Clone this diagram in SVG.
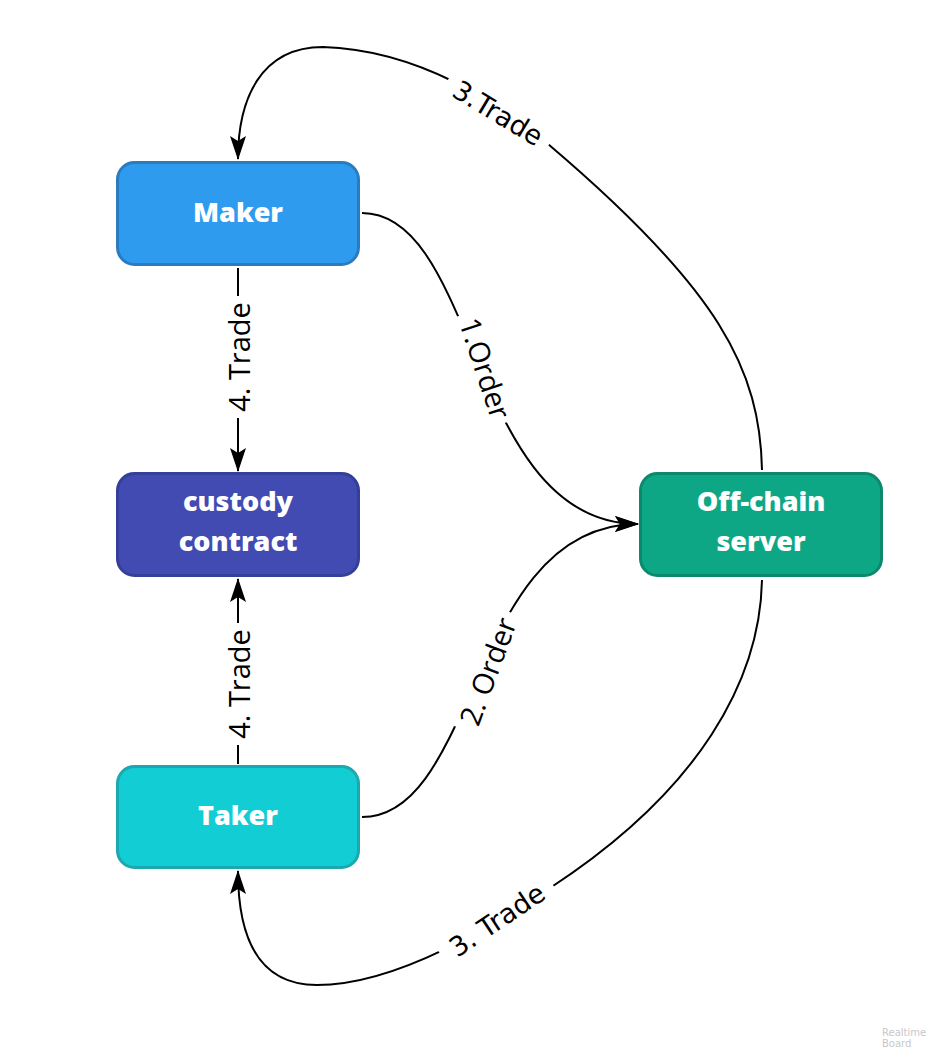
<svg xmlns="http://www.w3.org/2000/svg" width="941" height="1061" viewBox="0 0 941 1061">
<style>
.node rect{stroke-width:3}
.nt{font-family:"Open Sans","DejaVu Sans",sans-serif;font-weight:800;font-size:27px;fill:#ffffff;text-anchor:middle}
.edge{fill:none;stroke:#000;stroke-width:2}
.lbl{font-family:"Open Sans","DejaVu Sans",sans-serif;font-size:29px;fill:#000;text-anchor:middle;dominant-baseline:central}
.lbl3{font-family:"DejaVu Sans",sans-serif;font-size:27px;fill:#000;text-anchor:middle;dominant-baseline:central}
.bg{fill:#ffffff}
.wm{font-family:"DejaVu Sans",sans-serif;font-size:10px;fill:#c8c8c8}
</style>
<defs>
<marker id="arr" markerUnits="userSpaceOnUse" markerWidth="24" markerHeight="16" viewBox="0 0 24 16" refX="23" refY="8" orient="auto">
<path d="M0,0 L24,8 L0,16 L5,8 Z" fill="#000"/>
</marker>
</defs>
<rect width="941" height="1061" fill="#ffffff"/>
<g id="connectors">
<path class="edge" d="M362,213 C478,213 470,524 638,524" marker-end="url(#arr)"/>
<path class="edge" d="M362,817 C478,817 470,524 638,524" marker-end="url(#arr)"/>
<path class="edge" d="M762,470 C760,370 720,290 548,144 C502,105 420,50 323,47 C260,47 238,100 238,159" marker-end="url(#arr)"/>
<path class="edge" d="M762,580 C760,680 700,790 550,888 C497,922 400,985 317,985 C260,985 238,940 238,871" marker-end="url(#arr)"/>
<path class="edge" d="M238,268 L238,471" marker-end="url(#arr)"/>
<path class="edge" d="M238,764 L238,579" marker-end="url(#arr)"/>
<g transform="translate(486,368) rotate(71.7)"><rect class="bg" x="-58" y="-16" width="116" height="32"/><text class="lbl" x="0" y="0">1.Order</text></g>
<g transform="translate(487,671) rotate(-69.7)"><rect class="bg" x="-63" y="-16" width="126" height="32"/><text class="lbl" x="0" y="0">2. Order</text></g>
<g transform="translate(498,113) rotate(31)"><rect class="bg" x="-60" y="-16" width="120" height="32"/><text class="lbl3" x="0" y="0">3.Trade</text></g>
<g transform="translate(497,920) rotate(-33.7)"><rect class="bg" x="-66" y="-16" width="132" height="32"/><text class="lbl3" x="0" y="0">3. Trade</text></g>
<g transform="translate(238,357) rotate(-90)"><rect class="bg" x="-61" y="-16" width="122" height="32"/><text class="lbl" x="0" y="0">4. Trade</text></g>
<g transform="translate(238,684) rotate(-90)"><rect class="bg" x="-61" y="-16" width="122" height="32"/><text class="lbl" x="0" y="0">4. Trade</text></g>
</g>
<g id="maker" class="node">
<rect x="117.5" y="162.5" width="241" height="102" rx="17" fill="#2e9bef" stroke="#2b7bbf"/>
<text class="nt" x="238" y="222">Maker</text>
</g>
<g id="custody" class="node">
<rect x="117.5" y="473.5" width="241" height="102" rx="17" fill="#414bb2" stroke="#353e98"/>
<text class="nt" x="238" y="511">custody</text>
<text class="nt" x="238" y="551">contract</text>
</g>
<g id="taker" class="node">
<rect x="117.5" y="766.5" width="241" height="101" rx="17" fill="#13cdd4" stroke="#1ba8ae"/>
<text class="nt" x="238" y="825">Taker</text>
</g>
<g id="offchain" class="node">
<rect x="640.5" y="473.5" width="241" height="102" rx="17" fill="#0ea785" stroke="#0c896d"/>
<text class="nt" x="761" y="511">Off-chain</text>
<text class="nt" x="761" y="551">server</text>
</g>
<g id="watermark">
<text class="wm" x="882" y="1036">Realtime</text>
<text class="wm" x="882" y="1047">Board</text>
</g>
</svg>
